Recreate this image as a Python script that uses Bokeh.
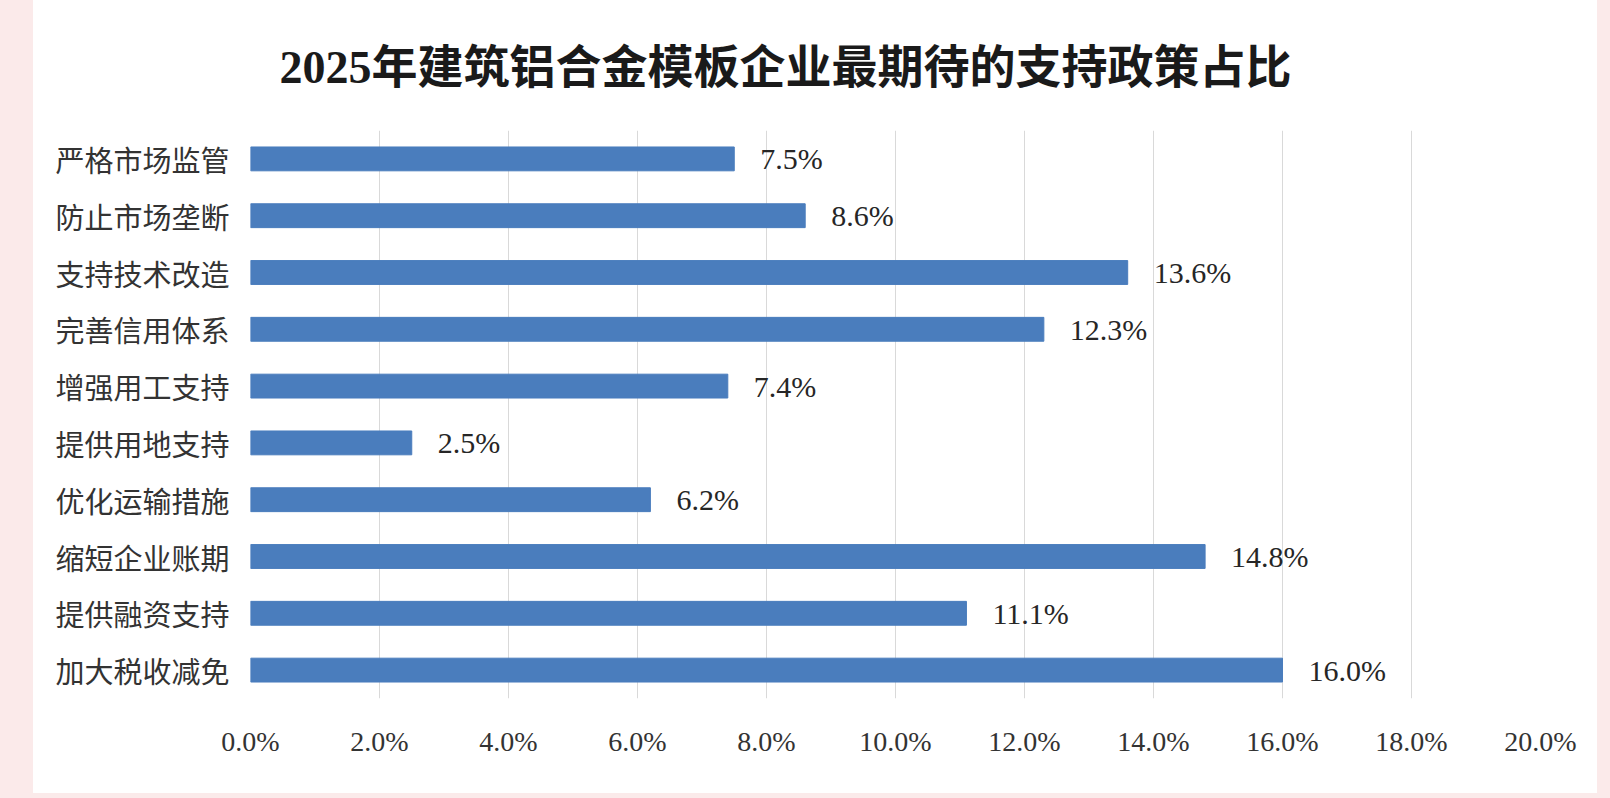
from bokeh.plotting import figure
from bokeh.models import FactorRange, ColumnDataSource, FixedTicker, Title, Spacer, CustomJSTickFormatter
from bokeh.layouts import row, column
from bokeh.embed import file_html
from bokeh.resources import INLINE
from bokeh.core.properties import value

title_text = "2025年建筑铝合金模板企业最期待的支持政策占比"
categories = ["严格市场监管", "防止市场垄断", "支持技术改造", "完善信用体系", "增强用工支持",
              "提供用地支持", "优化运输措施", "缩短企业账期", "提供融资支持", "加大税收减免"]
values = [7.5, 8.6, 13.6, 12.3, 7.4, 2.5, 6.2, 14.8, 11.1, 16.0]
x_ticks = [0, 2, 4, 6, 8, 10, 12, 14, 16, 18, 20]

serif = "'Liberation Serif', 'Noto Sans CJK SC'"
cjk = "'Noto Sans CJK SC'"

src = ColumnDataSource(dict(cat=categories, val=values,
                            lab=[f"{v:.1f}%" for v in values]))

p = figure(width=1564, height=793, output_backend="svg", toolbar_location=None,
           y_range=FactorRange(*list(reversed(categories)), range_padding=0),
           x_range=(0, 20),
           min_border_left=217, min_border_right=57, min_border_top=130, min_border_bottom=95)
p.background_fill_color = "white"
p.border_fill_color = "white"
p.outline_line_color = None

t = Title(text=title_text, align="left", offset=29, text_font=serif, text_font_size="46px",
          text_font_style="bold", text_color="#1a1a1a", standoff=72, vertical_align="top",
          text_line_height=0.6)
p.add_layout(t, "above")

p.hbar(y="cat", right="val", left=0, height=0.42, source=src, color="#4a7dbd")
p.text(x="val", y="cat", text="lab", source=src, x_offset=26, text_baseline="middle",
       text_align="left", text_font=value(serif), text_font_size="30px", text_color="#262626")

p.xaxis.ticker = FixedTicker(ticks=x_ticks)
p.xaxis.formatter = CustomJSTickFormatter(code="return tick.toFixed(1) + '%';")
p.xaxis.axis_line_color = None
p.xaxis.major_tick_line_color = None
p.xaxis.minor_tick_line_color = None
p.xaxis.major_label_text_font = serif
p.xaxis.major_label_text_font_size = "28px"
p.xaxis.major_label_text_color = "#333333"
p.xaxis.major_label_standoff = 21

p.yaxis.axis_line_color = None
p.yaxis.major_tick_line_color = None
p.yaxis.major_label_text_font = cjk
p.yaxis.major_label_text_font_size = "29px"
p.yaxis.major_label_text_color = "#333333"
p.yaxis.major_label_standoff = 15

p.xgrid.ticker = FixedTicker(ticks=x_ticks)
p.xgrid.grid_line_color = "#d9d9d9"
p.xgrid.grid_line_width = 1
p.ygrid.grid_line_color = None

pink = {"background-color": "#fbeaea"}
left = Spacer(width=33, height=798, styles=pink)
right = Spacer(width=13, height=798, styles=pink)
mid = column(p, Spacer(width=1564, height=5, styles=pink), spacing=0)
layout = row(left, mid, right, spacing=0)

open("out.html", "w").write(file_html(layout, INLINE))
